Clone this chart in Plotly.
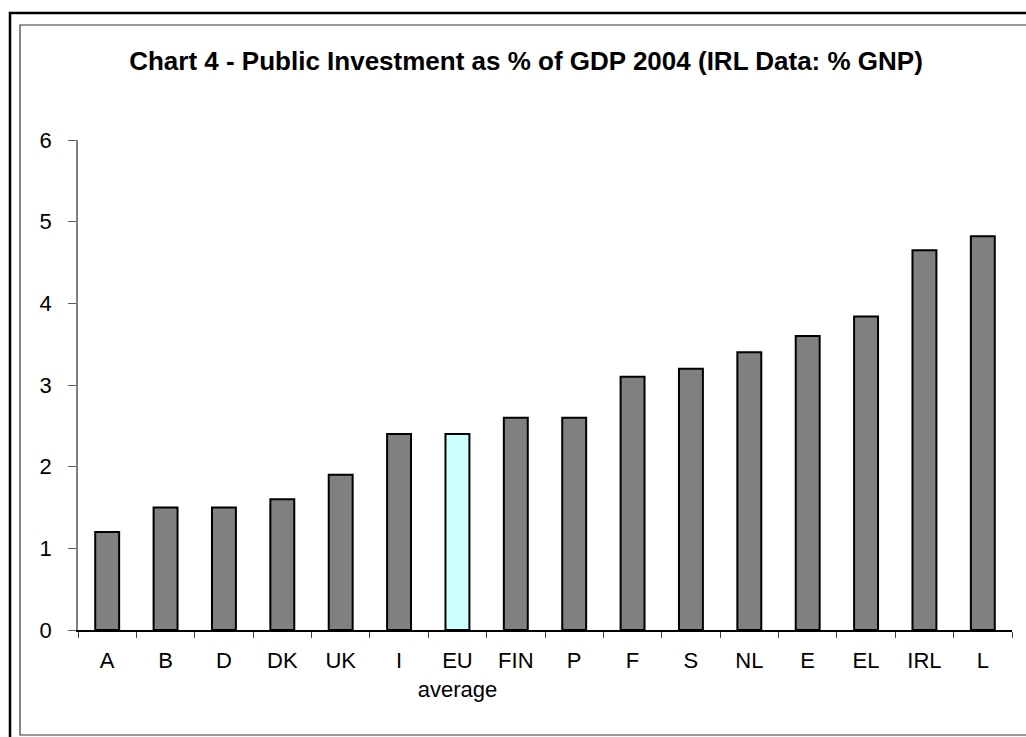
import plotly.graph_objects as go

# Public investment as % of GDP, 2004 (Ireland shown as % of GNP)
countries = ["A", "B", "D", "DK", "UK", "I", "EU<br>average", "FIN", "P",
             "F", "S", "NL", "E", "EL", "IRL", "L"]
investment = [1.2, 1.5, 1.5, 1.6, 1.9, 2.4, 2.4, 2.6, 2.6,
              3.1, 3.2, 3.4, 3.6, 3.84, 4.65, 4.82]
y_ticks = [0, 1, 2, 3, 4, 5, 6]

GREY = "#808080"
EU_FILL = "#CCFFFF"
bar_colors = [EU_FILL if c.startswith("EU") else GREY for c in countries]

W, H = 1026, 737
ML, MR, MT, MB = 78, 14, 140, 107
PW, PH = W - ML - MR, H - MT - MB


def px_x(px):
    return (px - ML) / PW


def px_y(py):
    return (H - MB - py) / PH


fig = go.Figure(
    go.Bar(
        x=countries,
        y=investment,
        width=0.41,
        marker=dict(color=bar_colors, line=dict(color="black", width=2)),
        hoverinfo="x+y",
    )
)

fig.update_layout(
    width=W,
    height=H,
    margin=dict(l=ML, r=MR, t=MT, b=MB, pad=0),
    paper_bgcolor="white",
    plot_bgcolor="white",
    showlegend=False,
    font=dict(family="Liberation Sans, Arial, sans-serif", color="black", size=22),
    title=dict(
        text="<b>Chart 4 - Public Investment as % of GDP 2004 (IRL Data: % GNP)</b>",
        x=526 / W,
        xanchor="center",
        y=1 - 61 / H,
        yanchor="middle",
        xref="container",
        yref="container",
        font=dict(size=26, color="black"),
    ),
    xaxis=dict(
        type="category",
        showgrid=False,
        showline=True,
        linecolor="black",
        linewidth=1.5,
        ticks="outside",
        tickson="boundaries",
        ticklen=6,
        tickcolor="#404040",
        tickwidth=1,
        tickangle=0,
        tickfont=dict(size=22),
        ticklabelstandoff=10,
        zeroline=False,
        automargin=False,
    ),
    yaxis=dict(
        range=[0, 6],
        tickvals=y_ticks,
        showgrid=False,
        showline=True,
        linecolor=GREY,
        linewidth=1.5,
        ticks="outside",
        ticklen=8,
        tickcolor="#606060",
        tickwidth=1,
        tickfont=dict(size=22),
        ticklabelstandoff=12,
        zeroline=False,
        automargin=False,
    ),
    shapes=[
        # outer frame
        dict(type="rect", xref="paper", yref="paper",
             x0=px_x(10), x1=px_x(W + 20), y0=px_y(H + 20), y1=px_y(13),
             line=dict(color="black", width=2.5), fillcolor="rgba(0,0,0,0)", layer="above"),
        # inner frame
        dict(type="rect", xref="paper", yref="paper",
             x0=px_x(20), x1=px_x(W + 20), y0=px_y(735), y1=px_y(25),
             line=dict(color="#333333", width=1.2), fillcolor="rgba(0,0,0,0)", layer="above"),
    ],
)

fig.write_html("out.html")
